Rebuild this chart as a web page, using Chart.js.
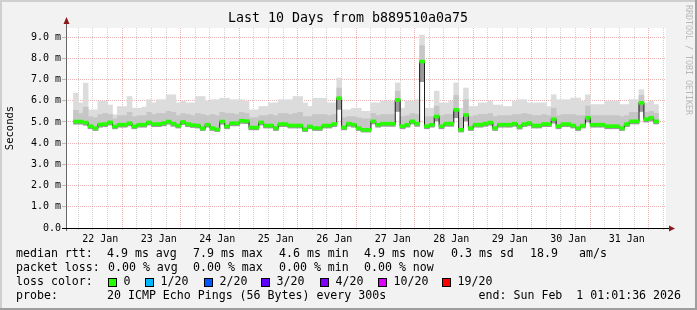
<!DOCTYPE html>
<html>
<head>
<meta charset="utf-8">
<script src="https://cdn.jsdelivr.net/npm/chart.js@4.4.1/dist/chart.umd.min.js"></script>
<style>
  html, body { margin: 0; padding: 0; background: #f2f2f2; }
  canvas { display: block; }
</style>
</head>
<body>
<canvas id="myChart" width="697" height="310"></canvas>
<script>
const title = "Last 10 Days from b889510a0a75";
const startHour = 1.0267; // 22 Jan 01:01:36, hours after 22 Jan 00:00
const spanHours = 240;
const binHours = 2;

const dayLabels = ["22 Jan", "23 Jan", "24 Jan", "25 Jan", "26 Jan", "27 Jan", "28 Jan", "29 Jan", "30 Jan", "31 Jan"];
const yTicks = [0, 0.5, 1, 1.5, 2, 2.5, 3, 3.5, 4, 4.5, 5, 5.5, 6, 6.5, 7, 7.5, 8, 8.5, 9];

// median rtt (ms), one value per 2 hour bin
const median = [
  5.02, 5.02, 4.97, 4.80, 4.70, 4.88, 4.90, 4.98, 4.79, 4.87,
  4.87, 4.94, 4.79, 4.87, 4.87, 4.98, 4.90, 4.90, 4.94, 5.02,
  4.92, 4.83, 5.00, 4.90, 4.85, 4.83, 4.70, 4.87, 4.71, 4.65,
  5.02, 4.79, 4.94, 4.94, 5.06, 5.04, 4.74, 4.74, 4.98, 4.83,
  4.83, 4.71, 4.90, 4.90, 4.83, 4.83, 4.83, 4.65, 4.79, 4.71,
  4.71, 4.83, 4.83, 4.90, 6.12, 4.74, 4.92, 4.87, 4.71, 4.63,
  4.63, 5.03, 4.87, 4.92, 4.92, 4.92, 6.04, 4.80, 4.87, 5.03,
  4.92, 7.85, 4.80, 4.87, 5.26, 4.80, 4.92, 4.92, 5.57, 4.63,
  5.33, 4.71, 4.87, 4.87, 4.92, 4.97, 4.71, 4.87, 4.87, 4.87,
  4.92, 4.78, 4.90, 4.95, 4.83, 4.83, 4.90, 4.90, 5.13, 4.80,
  4.90, 4.90, 4.83, 4.71, 4.83, 5.20, 4.87, 4.87, 4.87, 4.80,
  4.80, 4.80, 4.71, 4.90, 5.03, 5.03, 5.90, 5.13, 5.20, 5.03
];

// smoke: slowest ping, upper band and fastest ping per bin (ms)
const smokeHi = [
  6.36, 5.90, 6.83, 5.57, 5.57, 5.97, 5.97, 5.80, 5.34, 5.73,
  5.73, 6.20, 5.65, 5.65, 5.70, 6.05, 5.90, 6.05, 6.05, 6.28,
  6.28, 5.90, 5.97, 5.90, 5.90, 6.20, 6.20, 5.97, 6.05, 6.05,
  6.12, 6.12, 6.05, 6.05, 6.05, 5.97, 5.57, 5.57, 5.73, 5.73,
  5.90, 5.90, 6.05, 6.05, 6.05, 6.20, 6.20, 5.90, 5.73, 6.12,
  6.12, 6.12, 5.90, 5.90, 7.07, 5.57, 5.57, 5.65, 5.65, 5.50,
  5.50, 5.90, 5.90, 5.97, 5.97, 5.97, 6.84, 5.65, 5.97, 5.97,
  6.05, 9.10, 5.65, 5.65, 6.45, 5.90, 5.90, 5.97, 6.84, 5.65,
  6.60, 5.73, 5.73, 5.90, 5.90, 5.97, 5.80, 5.80, 5.73, 5.73,
  5.97, 6.05, 6.05, 5.90, 5.90, 5.90, 5.90, 5.73, 6.28, 6.05,
  6.05, 6.05, 6.13, 6.13, 5.97, 6.28, 5.82, 5.82, 5.82, 5.97,
  5.97, 5.97, 5.82, 5.82, 6.05, 6.05, 6.52, 5.90, 5.97, 5.82
];
const smokeMid = [
  5.55, 5.40, 5.70, 5.25, 5.20, 5.35, 5.40, 5.35, 5.15, 5.30,
  5.30, 5.45, 5.25, 5.30, 5.30, 5.45, 5.35, 5.40, 5.40, 5.50,
  5.45, 5.30, 5.40, 5.35, 5.30, 5.40, 5.35, 5.30, 5.35, 5.30,
  5.45, 5.40, 5.40, 5.35, 5.45, 5.40, 5.20, 5.20, 5.30, 5.30,
  5.35, 5.30, 5.40, 5.40, 5.35, 5.40, 5.45, 5.25, 5.25, 5.35,
  5.35, 5.35, 5.30, 5.35, 6.60, 5.20, 5.25, 5.25, 5.20, 5.15,
  5.15, 5.40, 5.30, 5.35, 5.35, 5.35, 6.45, 5.25, 5.30, 5.40,
  5.35, 8.60, 5.25, 5.25, 5.75, 5.30, 5.35, 5.35, 6.25, 5.20,
  6.05, 5.25, 5.30, 5.35, 5.35, 5.40, 5.25, 5.30, 5.30, 5.30,
  5.35, 5.35, 5.40, 5.35, 5.30, 5.30, 5.35, 5.30, 5.65, 5.30,
  5.35, 5.35, 5.35, 5.30, 5.30, 5.75, 5.30, 5.30, 5.30, 5.30,
  5.30, 5.30, 5.25, 5.30, 5.45, 5.45, 6.25, 5.45, 5.50, 5.40
];
const smokeLo = [
  4.90, 4.90, 4.85, 4.68, 4.60, 4.76, 4.78, 4.86, 4.68, 4.76,
  4.76, 4.82, 4.68, 4.76, 4.76, 4.86, 4.78, 4.78, 4.82, 4.90,
  4.80, 4.72, 4.88, 4.78, 4.74, 4.72, 4.60, 4.76, 4.60, 4.55,
  4.90, 4.68, 4.82, 4.82, 4.94, 4.92, 4.63, 4.63, 4.86, 4.72,
  4.72, 4.60, 4.78, 4.78, 4.72, 4.72, 4.72, 4.55, 4.68, 4.60,
  4.60, 4.72, 4.72, 4.78, 5.60, 4.63, 4.80, 4.76, 4.60, 4.53,
  4.53, 4.91, 4.76, 4.80, 4.80, 4.80, 5.50, 4.68, 4.76, 4.91,
  4.80, 6.90, 4.68, 4.76, 5.05, 4.68, 4.80, 4.80, 5.20, 4.53,
  5.05, 4.60, 4.76, 4.76, 4.80, 4.85, 4.60, 4.76, 4.76, 4.76,
  4.80, 4.67, 4.78, 4.83, 4.72, 4.72, 4.78, 4.78, 4.95, 4.68,
  4.78, 4.78, 4.72, 4.60, 4.72, 5.00, 4.76, 4.76, 4.76, 4.68,
  4.68, 4.68, 4.60, 4.78, 4.91, 4.91, 5.50, 5.00, 5.05, 4.91
];

const lossLabels = ["0", "1/20", "2/20", "3/20", "4/20", "10/20", "19/20"];
const lossColors = ["#26ff00", "#00b8ff", "#0059ff", "#5e00ff", "#7e00ff", "#dd00ff", "#ff0000"];

const rttLegend = [["median rtt:", 16], ["4.9 ms avg", 107], ["7.9 ms max", 193], ["4.6 ms min", 279], ["4.9 ms now", 364], ["0.3 ms sd", 451], ["18.9", 530], ["am/s", 579]];
const lossLegend = [["packet loss:", 16], ["0.00 % avg", 108], ["0.00 % max", 193], ["0.00 % min", 279], ["0.00 % now", 364]];
const probeText = "20 ICMP Echo Pings (56 Bytes) every 300s";
const endText = "end: Sun Feb  1 01:01:36 2026";

const mono = "'DejaVu Sans Mono', monospace";

const xs = median.map((_, i) => startHour + binHours * i + binHours / 2);
const band = (lo, hi) => xs.map((x, i) => ({ x: x, y: [lo[i], hi[i]] }));
const medianBand = xs.map((x, i) => ({ x: x, y: [median[i] - 0.07, median[i] + 0.07] }));

const barDefaults = { type: "bar", grouped: false, barPercentage: 1, categoryPercentage: 1, borderWidth: 0 };

const rrdFrame = {
  id: "rrdFrame",
  beforeDraw(chart) {
    const c = chart.ctx, a = chart.chartArea;
    c.save();
    c.fillStyle = "#f2f2f2";
    c.fillRect(0, 0, chart.width, chart.height);
    c.fillStyle = "#cfcfcf";
    c.fillRect(0, 0, chart.width, 2);
    c.fillRect(0, 0, 2, chart.height);
    c.fillStyle = "#9e9e9e";
    c.fillRect(0, chart.height - 2, chart.width, 2);
    c.fillRect(chart.width - 2, 0, 2, chart.height);
    c.fillStyle = "#ffffff";
    c.fillRect(a.left, a.top, a.right - a.left, a.bottom - a.top);
    c.restore();
  },
  afterDraw(chart) {
    const c = chart.ctx, a = chart.chartArea;
    c.save();
    // axes
    c.strokeStyle = "#666666";
    c.lineWidth = 1;
    c.beginPath();
    c.moveTo(a.left + 0.5, a.bottom + 3);
    c.lineTo(a.left + 0.5, a.top - 6);
    c.stroke();
    c.strokeStyle = "#000000";
    c.beginPath();
    c.moveTo(a.left - 4, a.bottom + 0.5);
    c.lineTo(a.right + 4, a.bottom + 0.5);
    c.stroke();
    c.fillStyle = "#8b1a1a";
    c.beginPath();
    c.moveTo(a.left + 0.5, a.top - 11);
    c.lineTo(a.left - 2.5, a.top - 4);
    c.lineTo(a.left + 3.5, a.top - 4);
    c.closePath();
    c.fill();
    c.beginPath();
    c.moveTo(a.right + 9, a.bottom + 0.5);
    c.lineTo(a.right + 3, a.bottom - 2.5);
    c.lineTo(a.right + 3, a.bottom + 3.5);
    c.closePath();
    c.fill();

    // title
    c.fillStyle = "#000000";
    c.font = "13.3px " + mono;
    c.textAlign = "center";
    c.textBaseline = "middle";
    c.fillText(title, 348, 19);

    // unit label
    c.save();
    c.translate(10, (a.top + a.bottom) / 2);
    c.rotate(-Math.PI / 2);
    c.font = "10.5px " + mono;
    c.fillText("Seconds", 0, 0);
    c.restore();

    // watermark
    c.save();
    c.translate(688, 5);
    c.rotate(Math.PI / 2);
    c.font = "8.3px " + mono;
    c.fillStyle = "#b8b8b8";
    c.textAlign = "left";
    c.fillText("RRDTOOL / TOBI OETIKER", 0, 0);
    c.restore();

    // legend
    c.font = "11.6px " + mono;
    c.textAlign = "left";
    c.fillStyle = "#000000";
    rttLegend.forEach(([t, x]) => c.fillText(t, x, 254));
    lossLegend.forEach(([t, x]) => c.fillText(t, x, 268));
    c.fillText("loss color:", 16, 282);
    const swatchX = [108, 145, 204, 261, 320, 378, 442];
    lossLabels.forEach((t, i) => {
      c.fillStyle = lossColors[i];
      c.fillRect(swatchX[i], 278, 9, 9);
      c.strokeStyle = "#000000";
      c.strokeRect(swatchX[i] + 0.5, 278.5, 8, 8);
      c.fillStyle = "#000000";
      c.fillText(t, swatchX[i] + 15.5, 282);
    });
    c.fillText("probe:", 16, 296);
    c.fillText(probeText, 107, 296);
    c.textAlign = "right";
    c.fillText(endText, 681, 296);
    c.restore();
  }
};

const gridColor = (major) => (major ? "rgba(220,120,120,0.55)" : "rgba(170,170,170,0.55)");

new Chart(document.getElementById("myChart"), {
  data: {
    datasets: [
      { ...barDefaults, data: band(smokeLo, smokeHi), backgroundColor: "#dcdcdc", order: 5 },
      { ...barDefaults, data: band(smokeLo, smokeMid), backgroundColor: "#c6c6c6", order: 4 },
      { ...barDefaults, data: band(smokeLo, median), backgroundColor: "#9a9a9a", order: 3 },
      {
        type: "line",
        data: xs.map((x, i) => ({ x: x, y: median[i] })),
        borderColor: "#202020",
        borderWidth: 1,
        stepped: "middle",
        pointRadius: 0,
        order: 2
      },
      { ...barDefaults, data: medianBand, backgroundColor: lossColors[0], order: 1 }
    ]
  },
  options: {
    responsive: false,
    animation: false,
    devicePixelRatio: 1,
    layout: { padding: { left: 0, right: 31, top: 28, bottom: 0 } },
    plugins: { legend: { display: false }, tooltip: { enabled: false } },
    scales: {
      x: {
        type: "linear",
        min: startHour,
        max: startHour + spanHours,
        afterFit: (s) => { s.height = 82; },
        afterBuildTicks: (s) => {
          const t = [];
          for (let h = 6; h <= 240; h += 6) t.push({ value: h });
          s.ticks = t;
        },
        ticks: {
          autoSkip: false,
          maxRotation: 0,
          padding: 3,
          color: "#000000",
          font: { family: mono, size: 10 },
          callback: (v) => (v % 24 === 12 ? dayLabels[(v - 12) / 24] : "")
        },
        grid: {
          color: (ctx) => gridColor(ctx.tick && ctx.tick.value % 24 === 0),
          tickLength: 2,
          tickColor: "rgba(170,170,170,0.55)"
        },
        border: { display: false, dash: [1, 1] }
      },
      y: {
        min: 0,
        max: 9.43,
        afterFit: (s) => { s.width = 66; },
        afterBuildTicks: (s) => { s.ticks = yTicks.map((v) => ({ value: v })); },
        ticks: {
          padding: 1,
          color: "#000000",
          font: { family: mono, size: 10 },
          callback: (v) => (v % 1 !== 0 ? "" : v === 0 ? "0.0" : v.toFixed(1) + " m")
        },
        grid: {
          color: (ctx) => gridColor(ctx.tick && ctx.tick.value % 1 === 0),
          tickLength: 4,
          tickColor: "rgba(150,150,150,0.6)"
        },
        border: { display: false, dash: [1, 1] }
      }
    }
  },
  plugins: [rrdFrame]
});
</script>
</body>
</html>
